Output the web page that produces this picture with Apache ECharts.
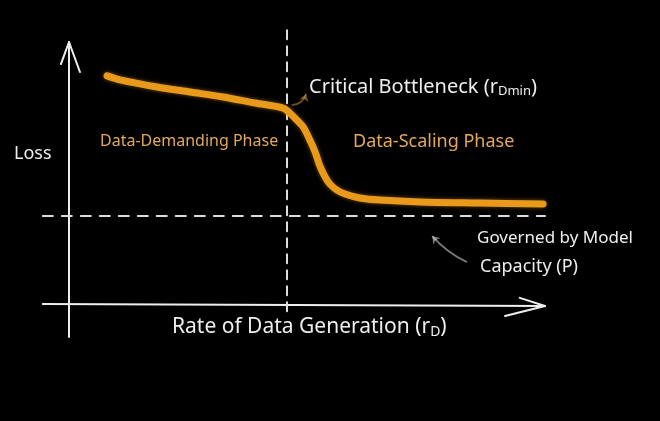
<!DOCTYPE html>
<html><head><meta charset="utf-8">
<script src="https://cdn.jsdelivr.net/npm/echarts@6/dist/echarts.min.js"></script>
<style>html,body{margin:0;padding:0;background:#000;}#c{width:660px;height:421px;}</style>
</head><body><div id="c"></div>
<script>
// Loss curve vs rate of data generation (arbitrary units, origin at 0,0)
const curveX = [0.80,1.07,1.85,2.54,3.24,3.91,4.50,4.64,4.79,4.92,5.06,5.17,5.27,5.38,5.48,5.63,5.80,6.11,6.53,7.37,8.63,9.96];
const curveY = [8.71,8.56,8.29,8.10,7.91,7.68,7.49,7.30,7.03,6.77,6.27,5.82,5.29,4.87,4.60,4.37,4.22,4.07,3.99,3.92,3.88,3.84];
const bottleneckX = 4.58;      // critical bottleneck r_Dmin
const capacityY = 3.38;        // loss floor governed by model capacity P
const axisXRange = [-0.55, 10];
const axisYRange = [-1.22, 10];

const WHITE = '#eeeeee', ORANGE = '#e99a1b', TXT_OR = '#e3a85a';
const font = '"Noto Sans", sans-serif';

const chart = echarts.init(document.getElementById('c'));
const line = (data, color, width, type) => ({
  type: 'line', data, clip: false, symbol: 'none', silent: true,
  lineStyle: { color, width, type: type || 'solid', cap: 'round', join: 'round' }, z: 2
});
chart.setOption({
  backgroundColor: '#000',
  animation: false,
  // x: 1 unit = 47.6px, origin at x=69px; y: 1 unit = 26.3px, origin at y=305px
  grid: { left: 21.4, right: 67.4, top: 15.7, bottom: 63.4 },
  xAxis: { type: 'value', min: -1, max: 11, show: false },
  yAxis: { type: 'value', min: -2, max: 11, show: false },
  series: [
    line([[0, axisYRange[0]], [0, axisYRange[1]]], WHITE, 2),
    line([[-0.17, 9.16], [0, 10], [0.23, 8.86]], WHITE, 2),
    line([[axisXRange[0], 0.04], [axisXRange[1], -0.04]], WHITE, 2),
    line([[9.47, 0.27], [10, -0.04], [9.16, -0.42]], WHITE, 2),
    line([[bottleneckX, 10.45], [bottleneckX, -0.25]], '#dddddd', 2, [9, 7]),
    line([[axisXRange[0], capacityY], [axisXRange[1], capacityY]], '#dddddd', 2, [10, 9]),
    Object.assign(line(curveX.map((x, i) => [x, curveY[i]]), ORANGE, 7), {
      smooth: 0.3, z: 3,
      lineStyle: { color: ORANGE, width: 7, cap: 'round', join: 'round', shadowColor: 'rgba(233,154,27,0.5)', shadowBlur: 4 }
    }),
    {
      type: 'lines', coordinateSystem: 'cartesian2d', silent: true, z: 4,
      symbol: ['none', 'arrow'], symbolSize: 7,
      data: [
        { coords: [[4.68, 7.60], [4.98, 8.02]], lineStyle: { color: '#d9a050', width: 1.8, curveness: -0.35 } },
        { coords: [[8.36, 1.63], [7.63, 2.62]], lineStyle: { color: WHITE, width: 1.8, curveness: 0.1 } }
      ]
    }
  ],
  graphic: [
    { type: 'text', left: 14, top: 145, style: { text: 'Loss', fill: WHITE, font: '18px ' + font } },
    { type: 'text', left: 100, top: 133, style: { text: 'Data-Demanding Phase', fill: TXT_OR, font: '16px ' + font } },
    { type: 'text', left: 353, top: 133, style: { text: 'Data-Scaling Phase', fill: TXT_OR, font: '18px ' + font } },
    { type: 'text', left: 309, top: 77, style: {
        text: 'Critical Bottleneck ({s|r}{sub|Dmin}{s|)}', fill: WHITE, font: '20px ' + font,
        rich: { s: { fill: WHITE, font: '20px ' + font }, sub: { fill: WHITE, font: '13px ' + font, padding: [9, 0, 0, 0] } } } },
    { type: 'text', left: 477, top: 230, style: { text: 'Governed by Model', fill: WHITE, font: '17px ' + font } },
    { type: 'text', left: 480, top: 258, style: { text: 'Capacity (P)', fill: WHITE, font: '18px ' + font } },
    { type: 'text', left: 172, top: 317, style: {
        text: 'Rate of Data Generation ({s|r}{sub|D}{s|)}', fill: WHITE, font: '21px ' + font,
        rich: { s: { fill: WHITE, font: '21px ' + font }, sub: { fill: WHITE, font: '14px ' + font, padding: [9, 0, 0, 0] } } } }
  ]
});
</script></body></html>
